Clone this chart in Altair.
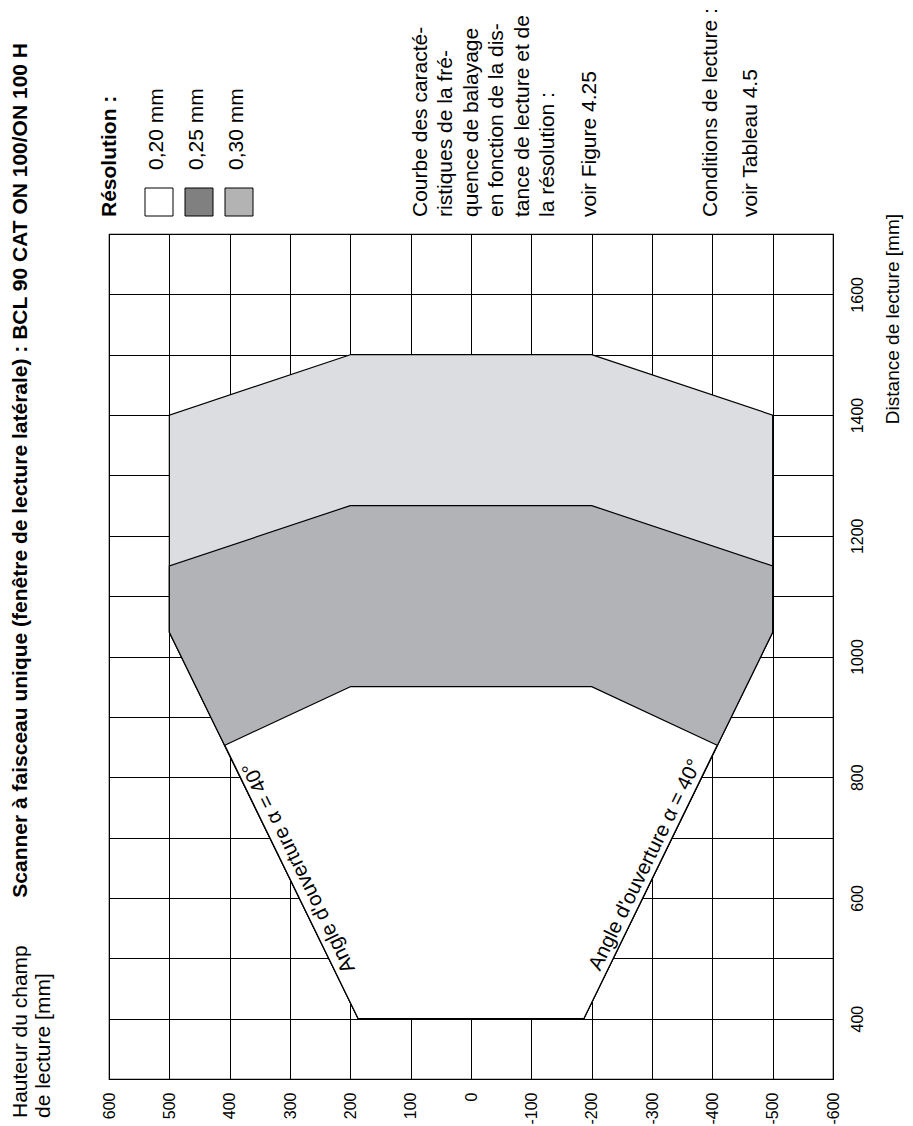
import altair as alt
import pandas as pd

# ---------------- data ----------------
height_ticks = [600, 500, 400, 300, 200, 100, 0, -100, -200, -300, -400, -500, -600]
distance_ticks = [300, 400, 500, 600, 700, 800, 900, 1000, 1100, 1200, 1300, 1400, 1500, 1600, 1700]

# reading field per resolution: distance [mm] and left / right edge of the field height [mm]
zone_030_d = [400, 1040, 1400, 1500]
zone_030_left = [187, 500, 500, 200]
zone_030_right = [-187, -500, -500, -200]

zone_025_d = [400, 1040, 1150, 1250]
zone_025_left = [187, 500, 500, 200]
zone_025_right = [-187, -500, -500, -200]

zone_020_d = [400, 853, 950]
zone_020_left = [187, 408, 200]
zone_020_right = [-187, -408, -200]

resolutions = ["0,20 mm", "0,25 mm", "0,30 mm"]
legend_colors = ["#ffffff", "#808080", "#b3b3b3"]

title_text = "Scanner à faisceau unique (fenêtre de lecture latérale) : BCL 90 CAT ON 100/ON 100 H"
y_title_lines = ["Hauteur du champ", "de lecture [mm]"]
x_title_text = "Distance de lecture [mm]"
legend_title = "Résolution :"
notes_par = ["Courbe des caracté-", "ristiques de la fré-", "quence de balayage",
             "en fonction de la dis-", "tance de lecture et de", "la résolution :"]
note_fig = "voir Figure 4.25"
note_cond = "Conditions de lecture :"
note_tab = "voir Tableau 4.5"
alpha_text = "Angle d'ouverture \u03b1 = 40°"

# ---------------- chart ----------------
FONT = "Liberation Sans"
NARROW = "Liberation Sans Narrow, Arial Narrow, Liberation Sans"
W, H = 724, 845

xs = alt.Scale(domain=[600, -600], nice=False, zero=False)
ys = alt.Scale(domain=[300, 1700], nice=False, zero=False)

XAX = alt.Axis(values=height_ticks, grid=True, ticks=False, domain=False,
               labelAngle=270, labelAlign="right", labelBaseline="middle",
               labelPadding=13, labelFont=NARROW, labelFontSize=16,
               labelColor="black", labelFlush=False, labelOverlap=False,
               gridColor="black", gridWidth=1, gridOpacity=1, title=None,
               labelExpr="'' + datum.value")
YAX = alt.Axis(orient="right", values=distance_ticks, grid=True, ticks=False,
               domain=False, labelAngle=270, labelAlign="center",
               labelBaseline="top", labelPadding=16, labelFont=NARROW,
               labelFontSize=16, labelColor="black", labelFlush=False,
               labelOverlap=False, gridColor="black", gridWidth=1,
               gridOpacity=1, title=None,
               labelExpr="datum.value % 200 == 0 ? '' + datum.value : ''")


def zone_df(d, left, right):
    return pd.DataFrame({"d": d, "hl": left, "hr": right})


def zone(df, color):
    return alt.Chart(df).mark_area(orient="horizontal", fill=color, stroke="black",
                                   strokeWidth=1.2, opacity=1, fillOpacity=1).encode(
        y=alt.Y("d:Q", scale=ys, axis=YAX, title=None),
        x=alt.X("hl:Q", scale=xs, axis=XAX, title=None),
        x2="hr:Q",
    )


dummy = pd.DataFrame({"k": [0]})

outer = zone(zone_df(zone_030_d, zone_030_left, zone_030_right), "#dcdde0")
middle = zone(zone_df(zone_025_d, zone_025_left, zone_025_right), "#b2b3b7")
inner = zone(zone_df(zone_020_d, zone_020_left, zone_020_right), "#ffffff")

alpha_left = alt.Chart(dummy).mark_text(angle=244, align="center", baseline="top", dy=3,
                                        fontSize=20.5, font=FONT, color="black").encode(
    x=alt.X(datum=304.6, scale=xs, axis=XAX, title=None),
    y=alt.Y(datum=641, scale=ys, axis=YAX, title=None),
    text=alt.value(alpha_text))
alpha_right = alt.Chart(dummy).mark_text(angle=296, align="center", baseline="bottom", dy=-2,
                                         fontSize=20.5, font=FONT, color="black").encode(
    x=alt.X(datum=-307, scale=xs, axis=XAX, title=None),
    y=alt.Y(datum=646, scale=ys, axis=YAX, title=None),
    text=alt.value(alpha_text))

main = alt.layer(outer, middle, inner, alpha_left, alpha_right)

# legend swatches
leg_df = pd.DataFrame({"res": resolutions})
lx = alt.Scale(type="point", domain=resolutions, range=[50, 130], padding=0)
squares = alt.Chart(leg_df).mark_square(size=784, stroke="black", strokeWidth=1,
                                         opacity=1).encode(
    x=alt.X("res:N", scale=lx, axis=None),
    y=alt.value(-32),
    fill=alt.Fill("res:N", scale=alt.Scale(domain=resolutions, range=legend_colors), legend=None),
)
sq_labels = alt.Chart(leg_df).mark_text(angle=270, align="left", baseline="alphabetic", dy=4,
                                         fontSize=21, font=FONT, color="black").encode(
    x=alt.X("res:N", scale=lx, axis=None), y=alt.value(-64), text="res:N")
legend = alt.layer(squares, sq_labels)


def txt(text, x, y, size=21, bold=False, align="left", font=FONT, lh=25.4):
    return alt.Chart(dummy).mark_text(angle=270, align=align, baseline="alphabetic",
                                      fontSize=size, font=font, color="black",
                                      fontWeight="bold" if bold else "normal",
                                      lineHeight=lh).encode(
        x=alt.value(x), y=alt.value(y), text=alt.value(text))


texts = [
    txt(title_text, -82, -191, bold=True, align="right"),
    txt(y_title_lines, -82, 884, lh=23),
    txt(legend_title, 7, -17, bold=True),
    txt(notes_par, 318, -17),
    txt(note_fig, 487, -17),
    txt(note_cond, 608, -17),
    txt(note_tab, 648, -17),
    txt(x_title_text, 790, -20, size=19, align="right"),
]

chart = alt.layer(main, legend, *texts).resolve_scale(x="independent").properties(
    width=W, height=H,
    autosize=alt.AutoSizeParams(type="none"),
    padding={"left": 101, "top": 226, "right": 72, "bottom": 47},
).configure_view(stroke="black", strokeWidth=1.2)

chart.save("out.html", embed_options={"renderer": "svg", "actions": False})
